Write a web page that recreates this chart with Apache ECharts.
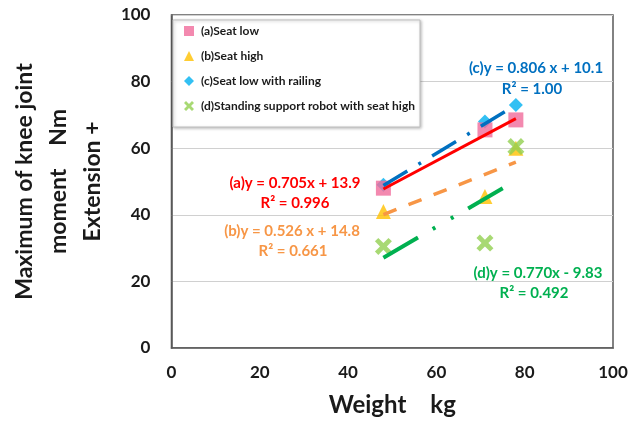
<!DOCTYPE html>
<html>
<head>
<meta charset="utf-8">
<script src="https://cdn.jsdelivr.net/npm/echarts@6/dist/echarts.min.js"></script>
<style>
  html, body { margin: 0; padding: 0; background: #fff; }
  #chart { width: 641px; height: 422px; }
</style>
</head>
<body>
<div id="chart"></div>
<script>
// measured points (weight kg -> max knee extension moment Nm)
var weights = [48, 71, 78];
var seatLow = [48, 65.5, 68.5];
var seatHigh = [41, 45.5, 60];
var seatLowRailing = [49, 68, 73];
var robotSeatHigh = [30.5, 31.5, 60.5];

var seriesNames = ['(a)Seat low', '(b)Seat high', '(c)Seat low with railing', '(d)Standing support robot with seat high'];
// trend lines as printed on the chart
var slopes = [0.705, 0.526, 0.806, 0.770];
var intercepts = [13.9, 14.8, 10.1, -9.83];
var fitRange = [48, 78];
var eqTexts = ['(a)y = 0.705x + 13.9', '(b)y = 0.526 x + 14.8', '(c)y = 0.806 x + 10.1', '(d)y = 0.770x - 9.83'];
var r2Texts = ['R² = 0.996', 'R² = 0.661', 'R² = 1.00', 'R² = 0.492'];
var axisTicks = [0, 20, 40, 60, 80, 100];

var FONT = 'Lato, "Noto Sans", sans-serif';
var crossPath = 'path://M0,2 L2,0 L5,3 L8,0 L10,2 L7,5 L10,8 L8,10 L5,7 L2,10 L0,8 L3,5 Z';

function pts(ys) {
  return weights.map(function (w, i) { return [w, ys[i]]; });
}
function fitLine(i) {
  return fitRange.map(function (x) { return [x, slopes[i] * x + intercepts[i]]; });
}

var chart = echarts.init(document.getElementById('chart'), null, { renderer: 'canvas' });

var axisCommon = {
  type: 'value',
  min: axisTicks[0],
  max: axisTicks[axisTicks.length - 1],
  interval: 20,
  axisLine: { show: true, lineStyle: { color: '#595959', width: 1.5 } },
  axisTick: { show: false },
  axisLabel: { color: '#1a1a1a', fontFamily: FONT, fontWeight: 'bold', fontSize: 17 }
};

var option = {
  animation: false,
  backgroundColor: '#fff',
  grid: {
    left: 165, right: 28, top: 15, bottom: 73,
    show: true, borderColor: '#595959', borderWidth: 1.5
  },
  xAxis: Object.assign({}, axisCommon, {
    name: 'Weight\u3000kg',
    nameLocation: 'middle',
    nameGap: 45,
    nameTextStyle: { color: '#1a1a1a', fontFamily: FONT, fontWeight: 'bold', fontSize: 24 },
    splitLine: { show: false },
    axisLabel: Object.assign({}, axisCommon.axisLabel, { margin: 16 })
  }),
  yAxis: Object.assign({}, axisCommon, {
    name: 'Maximum of knee joint\nmoment\u3000Nm\nExtension +',
    nameLocation: 'middle',
    nameRotate: 90,
    nameGap: 60,
    nameTextStyle: { color: '#1a1a1a', fontFamily: FONT, fontWeight: 'bold', fontSize: 23, lineHeight: 34 },
    splitLine: { show: true, lineStyle: { color: '#d0d0d0', width: 1 } },
    axisLabel: Object.assign({}, axisCommon.axisLabel, { margin: 21 })
  }),
  legend: {
    orient: 'vertical',
    left: 173, top: 20,
    padding: [5, 5, 15, 11],
    itemWidth: 10, itemHeight: 10,
    itemGap: 13,
    backgroundColor: '#fff',
    borderColor: '#bfbfbf', borderWidth: 1,
    shadowColor: 'rgba(0,0,0,0.25)', shadowBlur: 3, shadowOffsetX: 1, shadowOffsetY: 1,
    data: seriesNames,
    textStyle: { color: '#1a1a1a', fontFamily: FONT, fontWeight: 'bold', fontSize: 12, padding: [0, 0, 0, 2] }
  },
  series: [
    { name: seriesNames[2], type: 'scatter', data: pts(seatLowRailing), symbol: 'diamond', symbolSize: 14, itemStyle: { color: '#00b0f0' }, z: 2 },
    { name: seriesNames[1], type: 'scatter', data: pts(seatHigh), symbol: 'triangle', symbolSize: 15, itemStyle: { color: '#ffc000' }, z: 2 },
    { name: seriesNames[3], type: 'scatter', data: pts(robotSeatHigh), symbol: crossPath, symbolSize: 17, itemStyle: { color: '#92d050' }, z: 2 },
    { name: seriesNames[0], type: 'scatter', data: pts(seatLow), symbol: 'rect', symbolSize: 15, itemStyle: { color: '#f06b9b' }, z: 2 },
    // trend lines
    { name: 'fit a', type: 'line', data: fitLine(0), symbol: 'none', z: 3, lineStyle: { color: '#ff0000', width: 3 } },
    { name: 'fit b', type: 'line', data: fitLine(1), symbol: 'none', z: 3, lineStyle: { color: '#f79646', width: 3.5, type: [14, 13] } },
    { name: 'fit c', type: 'line', data: fitLine(2), symbol: 'none', z: 3, lineStyle: { color: '#0070c0', width: 3.5, type: [28, 13, 3, 13] } },
    { name: 'fit d', type: 'line', data: fitLine(3), symbol: 'none', z: 3, lineStyle: { color: '#00b050', width: 4, type: [40, 17, 3, 18, 3, 17] } }
  ],
  graphic: []
};

// equation labels
var labelColors = ['#ff0000', '#f79646', '#0070c0', '#00b050'];
var eqPos = [[295, 183], [292, 231], [536, 68], [538, 273]];
var r2Pos = [[295, 203], [293, 251], [532, 89], [534, 293]];
for (var i = 0; i < 4; i++) {
  option.graphic.push({
    type: 'text', x: eqPos[i][0], y: eqPos[i][1], z: 10,
    style: { text: eqTexts[i], fill: labelColors[i], font: 'bold 15px ' + FONT, align: 'center', verticalAlign: 'middle' }
  });
  option.graphic.push({
    type: 'text', x: r2Pos[i][0], y: r2Pos[i][1], z: 10,
    style: { text: r2Texts[i], fill: labelColors[i], font: 'bold 15px ' + FONT, align: 'center', verticalAlign: 'middle' }
  });
}

chart.setOption(option);
</script>
</body>
</html>
